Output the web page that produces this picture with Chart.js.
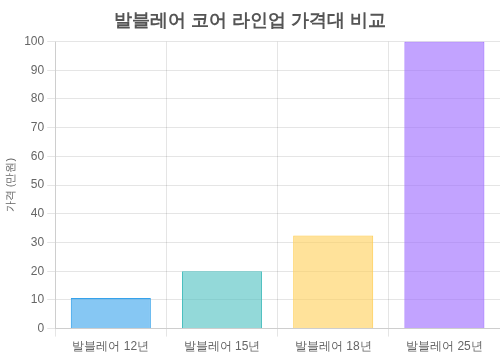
<!DOCTYPE html>
<html><head><meta charset="utf-8">
<script src="https://cdn.jsdelivr.net/npm/chart.js@4.4.0/dist/chart.umd.min.js"></script>
<style>html,body{margin:0;padding:0;background:#fff}#wrap{width:500px;height:357px}</style>
</head><body><div id="wrap"><canvas id="c"></canvas></div>
<script>
const categories = ['발블레어 12년', '발블레어 15년', '발블레어 18년', '발블레어 25년'];
const prices = [10.7, 20, 32.4, 100];
const fillColors = ['rgba(54,162,235,0.6)', 'rgba(75,192,192,0.6)', 'rgba(255,206,86,0.6)', 'rgba(153,102,255,0.6)'];
const borderColors = ['rgb(54,162,235)', 'rgb(75,192,192)', 'rgb(255,206,86)', 'rgb(153,102,255)'];
const titleText = '발블레어 코어 라인업 가격대 비교';
const yTitle = '가격 (만원)';

new Chart(document.getElementById('c'), {
  type: 'bar',
  data: { labels: categories, datasets: [{ data: prices, backgroundColor: fillColors, borderColor: borderColors, borderWidth: 1 }] },
  options: {
    responsive: true, maintainAspectRatio: false, animation: false,
    plugins: {
      legend: { display: false },
      title: { display: true, text: titleText, color: '#555', font: { size: 18, weight: 'bold' }, padding: { top: 10, bottom: 10 } }
    },
    scales: {
      y: { min: 0, max: 100, ticks: { stepSize: 10, color: '#666', font: { size: 12 } },
           title: { display: true, text: yTitle, color: '#666', font: { size: 11 } } },
      x: { ticks: { color: '#666', font: { size: 12 } } }
    }
  }
});
</script></body></html>
